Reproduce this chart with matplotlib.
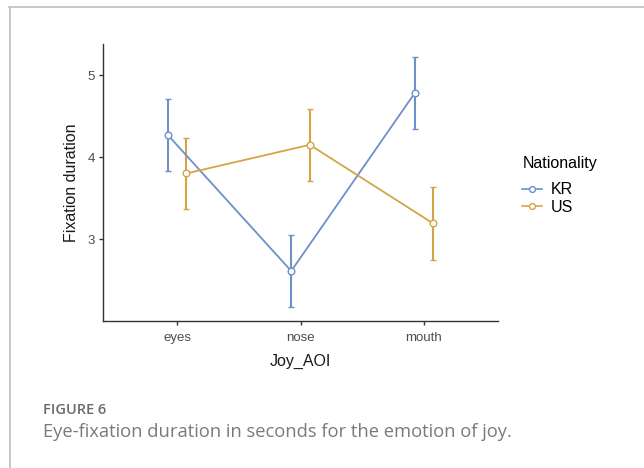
import matplotlib
matplotlib.use("Agg")
import matplotlib.pyplot as plt
from matplotlib.lines import Line2D
import numpy as np

categories = ["eyes", "nose", "mouth"]
groups = ["KR", "US"]
kr_mean = [4.27, 2.61, 4.78]
kr_err = [0.44, 0.44, 0.44]
us_mean = [3.80, 4.15, 3.19]
us_err = [0.43, 0.44, 0.44]
colors = {"KR": "#6E8FCB", "US": "#D5A446"}

plt.rcParams['font.family'] = ['Liberation Sans', 'DejaVu Sans']

fig = plt.figure(figsize=(6.44, 4.68), dpi=100)
ax = fig.add_axes([103/644, 1-321/468, (498-103)/644, (321-44)/468])

x = np.arange(1, len(categories)+1)
dodge = 0.075
for name, mean, err, off in [("KR", kr_mean, kr_err, -dodge), ("US", us_mean, us_err, dodge)]:
    ax.errorbar(x+off, mean, yerr=err, color=colors[name], lw=1.3, elinewidth=1.5,
                capsize=2.2, capthick=1.5, marker='o', ms=4.8, mfc='white',
                mec=colors[name], mew=1.0, label=name, zorder=3)

ax.set_xlim(0.4, 3.6)
ax.set_ylim(2.0, 5.38)
ax.set_xticks(x)
ax.set_xticklabels(categories)
ax.set_yticks([3, 4, 5])
for s in ["top", "right"]:
    ax.spines[s].set_visible(False)
for s in ["left", "bottom"]:
    ax.spines[s].set_color("#333333")
    ax.spines[s].set_linewidth(1.0)
ax.tick_params(axis='both', length=3, width=1.0, color="#333333",
               labelcolor="#4D4D4D", labelsize=9.5, pad=3)
ax.tick_params(axis='x', pad=5)
ax.set_xlabel("Joy_AOI", fontsize=11.5, color="#1a1a1a", labelpad=7)
ax.set_ylabel("Fixation duration", fontsize=11.5, color="#1a1a1a", labelpad=6)

handles = [Line2D([0], [0], color=colors[g], lw=1.2, marker='o', ms=4.2, mfc='white',
                  mec=colors[g], mew=1.0) for g in groups]
leg = fig.legend(handles, groups, title="Nationality", loc='upper left',
                 bbox_to_anchor=(516/644, 1-150/468), frameon=False, fontsize=11.5,
                 title_fontsize=11.5, handlelength=1.2, handletextpad=0.6,
                 labelspacing=0.15, borderaxespad=0)
leg._legend_box.align = "left"
leg._legend_box.sep = 8

# frame
fig.add_artist(Line2D([9/644, 1.0], [1-6.5/468, 1-6.5/468], color="#BDBDBD", lw=1.2,
                      transform=fig.transFigure))
fig.add_artist(Line2D([9.5/644, 9.5/644], [0, 1-6.5/468], color="#BDBDBD", lw=1.2,
                      transform=fig.transFigure))

fig.text(43/644, 1-410/468, "FIGURE 6", fontsize=10.5, color="#6B6B6B",
         family="Open Sans", fontweight="semibold", va="center", ha="left")
fig.text(43/644, 1-432/468, "Eye-fixation duration in seconds for the emotion of joy.",
         fontsize=13.2, color="#7A7A7A", family="Open Sans", va="center", ha="left")

fig.savefig("out.png", dpi=100)
